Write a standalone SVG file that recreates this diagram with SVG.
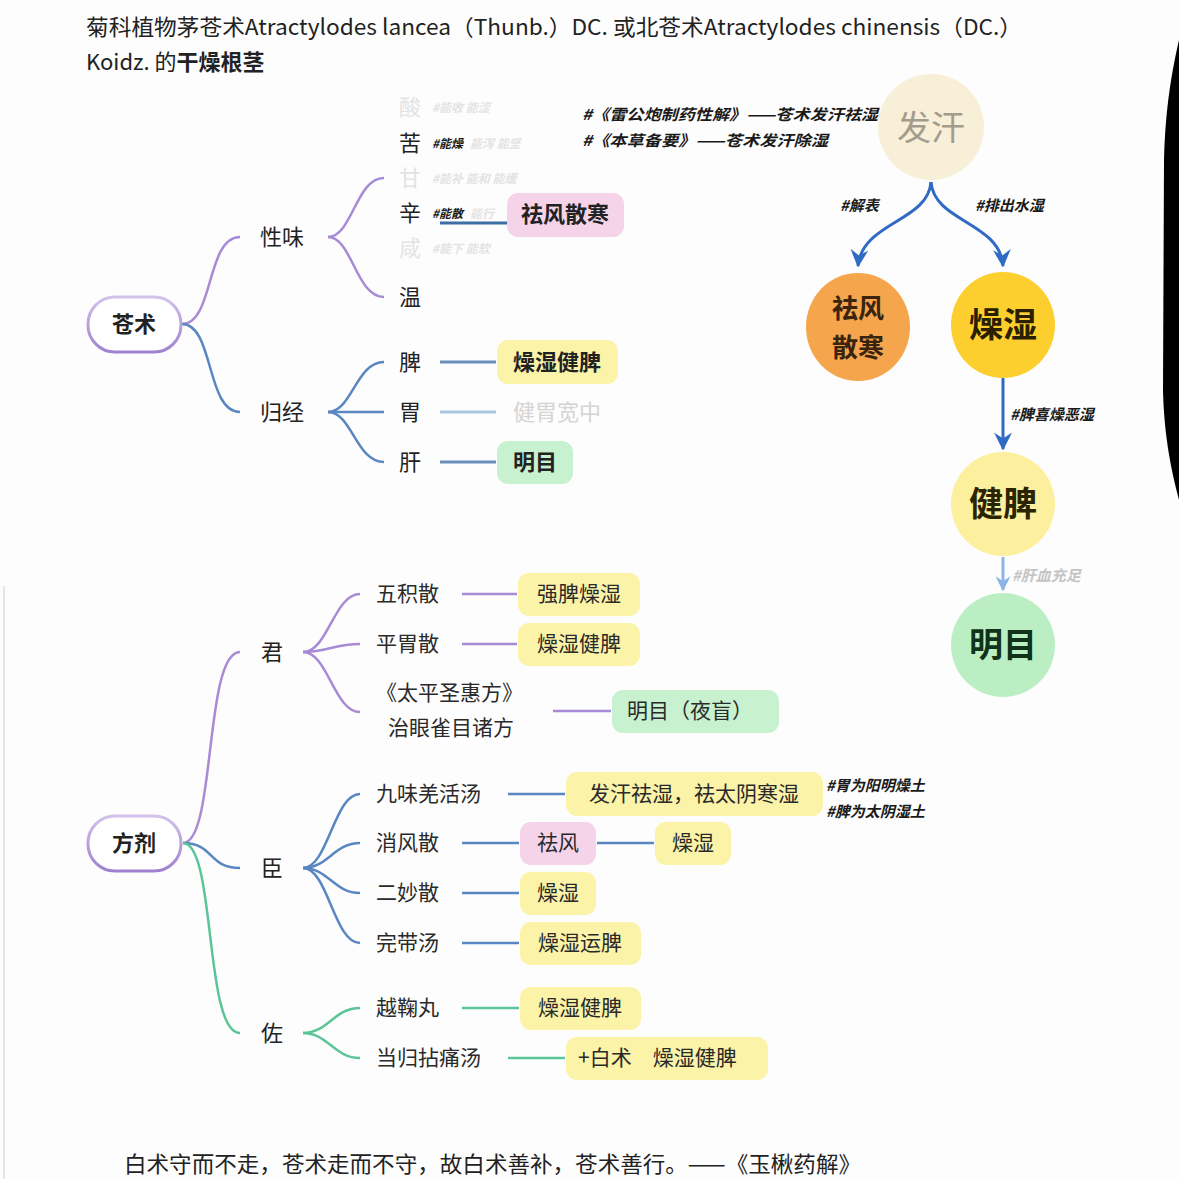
<svg xmlns="http://www.w3.org/2000/svg" width="1179" height="1179" viewBox="0 0 1179 1179">
<defs>
<style>
text{font-family:"Noto Sans CJK SC","Noto Sans",sans-serif;fill:#222}
.t{font-size:22px}
.b{font-weight:bold}
.m{font-size:21px;fill:#2a2a2a}
.note{font-size:15px;font-style:italic;font-weight:bold;fill:#1a1a1a}
.sn{font-size:12px;font-style:italic;font-weight:bold;fill:#1a1a1a}
.fainter{fill:#e3e3e3}
.pill{fill:#ffffff;stroke:#b8a2dc;stroke-width:3}
.yel{fill:#fbf3a8}
.pink{fill:#f5d4ea}
.grn{fill:#c8f1cf}
.pl{fill:none;stroke:#a88bd5;stroke-width:2.5}
.bl{fill:none;stroke:#5a86c2;stroke-width:2.5}
.gl{fill:none;stroke:#5cc597;stroke-width:2.5}
.arr{fill:none;stroke:#2f6bc4;stroke-width:3}
.c{text-anchor:middle}
</style>
<marker id="ahd" viewBox="0 0 12 12" refX="11" refY="6" markerWidth="18" markerHeight="18" markerUnits="userSpaceOnUse" orient="auto">
<path d="M0,0 L12,6 L0,12 L4,6 Z" fill="#2f6bc4"/>
</marker>
<marker id="ahl" viewBox="0 0 12 12" refX="11" refY="6" markerWidth="15" markerHeight="15" markerUnits="userSpaceOnUse" orient="auto">
<path d="M0,0 L12,6 L0,12 L4,6 Z" fill="#8db4e6"/>
</marker>
<linearGradient id="pg" x1="0" y1="0" x2="0" y2="1">
<stop offset="0" stop-color="#d2c2ea"/>
<stop offset="1" stop-color="#9f82cf"/>
</linearGradient>
</defs>
<rect x="0" y="0" width="1179" height="1179" fill="#fdfdfd"/>
<line x1="4" y1="586" x2="4" y2="1179" stroke="#e6e6e6" stroke-width="2"/>
<path d="M1179,40 C1172,70 1165,110 1164,160 L1163,390 C1164,435 1171,470 1179,500 Z" fill="#000"/>

<!-- header -->
<text class="t" x="86" y="35" textLength="936" lengthAdjust="spacingAndGlyphs">菊科植物茅苍术Atractylodes lancea（Thunb.）DC. 或北苍术Atractylodes chinensis（DC.）</text>
<text class="t" x="86" y="70">Koidz. 的<tspan class="b">干燥根茎</tspan></text>

<!-- connectors -->
<g id="connectors">
<path class="pl" d="M182,324 C214,324 206,237 240,237"/>
<path class="bl" d="M182,324 C214,324 206,412 240,412"/>
<path class="pl" d="M328,237 C352,237 356,178 384,178"/>
<path class="pl" d="M328,237 C352,237 356,297 384,297"/>
<path class="bl" d="M328,412 C352,412 356,362 384,362"/>
<path class="bl" d="M328,412 L384,412"/>
<path class="bl" d="M328,412 C352,412 356,462 384,462"/>
<line x1="440" y1="223" x2="507" y2="223" stroke="#3e6ea6" stroke-width="3"/>
<line x1="440" y1="362" x2="496" y2="362" stroke="#6a8fbf" stroke-width="3"/>
<line x1="440" y1="412" x2="496" y2="412" stroke="#aac4e2" stroke-width="3"/>
<line x1="440" y1="462" x2="496" y2="462" stroke="#6a8fbf" stroke-width="3"/>

<path class="arr" d="M931,182 C928,222 862,222 858,266" marker-end="url(#ahd)"/>
<path class="arr" d="M931,182 C934,222 1000,222 1003,266" marker-end="url(#ahd)"/>
<line class="arr" x1="1003" y1="378" x2="1003" y2="449" marker-end="url(#ahd)"/>
<line x1="1003" y1="557" x2="1003" y2="590" stroke="#8db4e6" stroke-width="3" marker-end="url(#ahl)"/>

<path class="pl" d="M183,843 C216,843 204,652 240,652"/>
<path class="bl" d="M183,843 C214,843 208,868 240,868"/>
<path class="gl" d="M183,843 C216,843 204,1033 240,1033"/>

<path class="pl" d="M303,652 C328,652 334,594 360,594"/>
<path class="pl" d="M303,652 C328,652 334,644 360,644"/>
<path class="pl" d="M303,652 C328,652 334,712 360,712"/>
<line class="pl" x1="462" y1="594" x2="517" y2="594"/>
<line class="pl" x1="462" y1="644" x2="517" y2="644"/>
<line class="pl" x1="553" y1="711" x2="611" y2="711"/>

<path class="bl" d="M303,868 C328,868 334,794 360,794"/>
<path class="bl" d="M303,868 C328,868 334,843 360,843"/>
<path class="bl" d="M303,868 C328,868 334,893 360,893"/>
<path class="bl" d="M303,868 C328,868 334,943 360,943"/>
<line class="bl" x1="508" y1="794" x2="565" y2="794" stroke-width="3"/>
<line class="bl" x1="462" y1="843" x2="519" y2="843" stroke-width="3"/>
<line class="bl" x1="597" y1="843" x2="654" y2="843" stroke-width="3"/>
<line class="bl" x1="462" y1="893" x2="519" y2="893" stroke-width="3"/>
<line class="bl" x1="462" y1="943" x2="519" y2="943" stroke-width="3"/>

<path class="gl" d="M303,1033 C328,1033 334,1008 360,1008"/>
<path class="gl" d="M303,1033 C328,1033 334,1058 360,1058"/>
<line class="gl" x1="462" y1="1008" x2="519" y2="1008" stroke-width="3"/>
<line class="gl" x1="508" y1="1058" x2="565" y2="1058" stroke-width="3"/>
</g>

<!-- 苍术 -->
<g id="cangzhu">
<rect class="pill" x="88" y="297" width="93" height="55" rx="27" style="stroke:url(#pg)"/>
<text class="t b c" x="134" y="332">苍术</text>
</g>
<g id="xingwei"><text class="t" x="260" y="245">性味</text></g>
<g id="guijing"><text class="t" x="260" y="420">归经</text></g>

<g id="tastes">
<text class="t fainter" x="399" y="115">酸</text>
<text class="sn fainter" x="432" y="112">#能收 能涩</text>
<text class="t" x="399" y="151">苦</text>
<text class="sn" x="432" y="148">#能燥</text>
<text class="sn fainter" x="470" y="148">能泻 能坚</text>
<text class="t fainter" x="399" y="186">甘</text>
<text class="sn fainter" x="432" y="183">#能补 能和 能缓</text>
<text class="t" x="399" y="221">辛</text>
<text class="sn" x="432" y="218">#能散</text>
<text class="sn fainter" x="470" y="218">能行</text>
<text class="t fainter" x="399" y="256">咸</text>
<text class="sn fainter" x="432" y="253">#能下 能软</text>
<text class="t" x="399" y="305">温</text>
</g>
<g id="qufeng1">
<rect class="pink" x="507" y="193" width="117" height="44" rx="11"/>
<text class="t b c" x="565" y="222">祛风散寒</text>
</g>
<g id="meridians">
<text class="t" x="399" y="370">脾</text>
<text class="t" x="399" y="420">胃</text>
<text class="t" x="399" y="470">肝</text>
</g>
<g id="zaoshi1">
<rect class="yel" x="497" y="340" width="121" height="44" rx="11"/>
<text class="t b c" x="557" y="370">燥湿健脾</text>
</g>
<g id="jianwei"><text class="t c" x="557" y="420" style="fill:#d4d4d4">健胃宽中</text></g>
<g id="mingmu1">
<rect class="grn" x="497" y="441" width="76" height="43" rx="11"/>
<text class="t b c" x="535" y="470">明目</text>
</g>

<g id="quotes">
<text class="note" x="582" y="120" textLength="296" lengthAdjust="spacingAndGlyphs">#《雷公炮制药性解》——苍术发汗祛湿</text>
<text class="note" x="582" y="146" textLength="246" lengthAdjust="spacingAndGlyphs">#《本草备要》——苍术发汗除湿</text>
</g>

<!-- right flow -->
<g id="fahan">
<circle cx="931" cy="127" r="53" fill="#f8efd8"/>
<text class="c" x="931" y="140" style="font-size:34px;fill:#a39c8c">发汗</text>
</g>
<text class="note" x="840" y="211">#解表</text>
<text class="note" x="975" y="211">#排出水湿</text>
<g id="qufeng2">
<ellipse cx="858" cy="327" rx="52" ry="54" fill="#f5a54c"/>
<text class="b c" x="858" y="318" style="font-size:26px;fill:#3a240e">祛风</text>
<text class="b c" x="858" y="357" style="font-size:26px;fill:#3a240e">散寒</text>
</g>
<g id="zaoshi2">
<ellipse cx="1003" cy="325" rx="52" ry="53" fill="#fdcf2e"/>
<text class="b c" x="1003" y="337" style="font-size:34px;fill:#2a2000">燥湿</text>
</g>
<text class="note" x="1010" y="420">#脾喜燥恶湿</text>
<g id="jianpi">
<circle cx="1003" cy="504" r="52" fill="#fcef9e"/>
<text class="b c" x="1003" y="516" style="font-size:34px;fill:#2a2400">健脾</text>
</g>
<text class="note" x="1012" y="581" style="fill:#c4c4c4">#肝血充足</text>
<g id="mingmu2">
<circle cx="1003" cy="645" r="52" fill="#bbefc3"/>
<text class="b c" x="1003" y="657" style="font-size:34px;fill:#10331a">明目</text>
</g>

<!-- 方剂 -->
<g id="fangji">
<rect class="pill" x="88" y="816" width="93" height="55" rx="27" style="stroke:url(#pg)"/>
<text class="t b c" x="134" y="851">方剂</text>
</g>
<g id="jun"><text class="t" x="261" y="660">君</text></g>
<g id="chen"><text class="t" x="261" y="876">臣</text></g>
<g id="zuo"><text class="t" x="261" y="1041">佐</text></g>

<g id="wujisan">
<text class="m" x="376" y="601">五积散</text>
<rect class="yel" x="518" y="573" width="122" height="43" rx="11"/>
<text class="m c" x="579" y="601">强脾燥湿</text>
</g>
<g id="pingweisan">
<text class="m" x="376" y="651">平胃散</text>
<rect class="yel" x="518" y="623" width="122" height="43" rx="11"/>
<text class="m c" x="579" y="651">燥湿健脾</text>
</g>
<g id="taiping">
<text class="m" x="376" y="700">《太平圣惠方》</text>
<text class="m" x="388" y="735">治眼雀目诸方</text>
<rect class="grn" x="612" y="690" width="167" height="43" rx="11"/>
<text class="m c" x="690" y="718">明目（夜盲）</text>
</g>

<g id="jiuwei">
<text class="m" x="376" y="801">九味羌活汤</text>
<rect class="yel" x="566" y="772" width="257" height="44" rx="11"/>
<text class="m c" x="694" y="801">发汗祛湿，祛太阴寒湿</text>
<text class="note" x="826" y="791">#胃为阳明燥土</text>
<text class="note" x="826" y="817">#脾为太阴湿土</text>
</g>
<g id="xiaofeng">
<text class="m" x="376" y="850">消风散</text>
<rect class="pink" x="520" y="822" width="76" height="43" rx="11"/>
<text class="m c" x="558" y="850">祛风</text>
<rect class="yel" x="655" y="822" width="76" height="43" rx="11"/>
<text class="m c" x="693" y="850">燥湿</text>
</g>
<g id="ermiao">
<text class="m" x="376" y="900">二妙散</text>
<rect class="yel" x="520" y="872" width="76" height="43" rx="11"/>
<text class="m c" x="558" y="900">燥湿</text>
</g>
<g id="wandai">
<text class="m" x="376" y="950">完带汤</text>
<rect class="yel" x="520" y="922" width="121" height="43" rx="11"/>
<text class="m c" x="580" y="950">燥湿运脾</text>
</g>
<g id="yueju">
<text class="m" x="376" y="1015">越鞠丸</text>
<rect class="yel" x="520" y="987" width="121" height="43" rx="11"/>
<text class="m c" x="580" y="1015">燥湿健脾</text>
</g>
<g id="danggui">
<text class="m" x="376" y="1065">当归拈痛汤</text>
<rect class="yel" x="566" y="1037" width="202" height="43" rx="11"/>
<text class="m" x="578" y="1065" xml:space="preserve">+白术　燥湿健脾</text>
</g>

<text class="t" x="124" y="1172" textLength="737" lengthAdjust="spacingAndGlyphs">白术守而不走，苍术走而不守，故白术善补，苍术善行。——《玉楸药解》</text>
</svg>
